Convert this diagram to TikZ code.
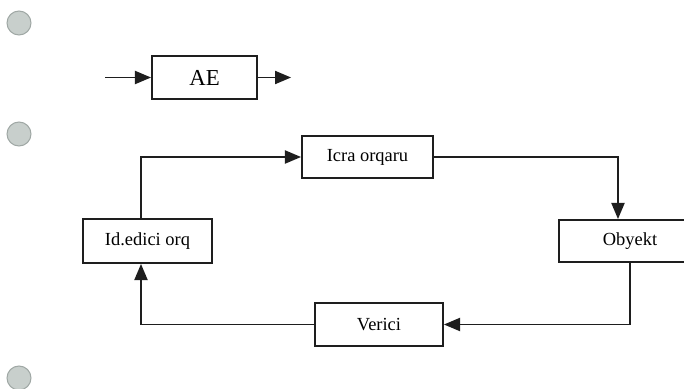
\documentclass[tikz,border=0pt]{standalone}
\usepackage{fontspec}
\setmainfont{Liberation Serif}
\usetikzlibrary{arrows,calc}
\definecolor{BulletClr}{RGB}{200,207,204}
\definecolor{BulletRim}{RGB}{160,168,165}
\definecolor{LineClr}{RGB}{30,30,30}

\tikzset{
  blok/.style={draw=LineClr,line width=1.2pt,fill=white,inner sep=0pt,font=\fontsize{10.5}{12}\selectfont},
  axin/.style={-triangle 45,line width=1.1pt,draw=LineClr},
  nokta/.style={circle,fill=BulletClr,draw=BulletRim,line width=0.6pt,minimum size=0.48cm,inner sep=0pt}
}

\begin{document}
\begin{tikzpicture}[x=0.02cm,y=-0.02cm]
\useasboundingbox (0,0) rectangle (684,389);
\clip (0,0) rectangle (684,389);

% bullets
\node[nokta] (b1) at (19,23) {};
\node[nokta] (b2) at (19,134) {};
\node[nokta] (b3) at (19,378) {};

% single block
\node[blok,minimum width=2.1cm,minimum height=0.86cm,font=\fontsize{13}{15}\selectfont] (ae) at (204.5,77.5) {AE};
\coordinate (aeIn) at (105,77.5);
\coordinate (aeOut) at (291,77.5);
\draw[axin] (aeIn) -- (ae.west);
\draw[axin] (ae.east) -- (aeOut);

% closed loop
\node[blok,minimum width=2.62cm,minimum height=0.84cm] (icra) at (367.5,157) {Icra orqaru};
\node[blok,minimum width=2.58cm,minimum height=0.88cm] (ided) at (147.5,241) {Id.edici orq};
\node[blok,minimum width=2.84cm,minimum height=0.84cm] (obj) at (630,241) {Obyekt};
\node[blok,minimum width=2.56cm,minimum height=0.86cm] (ver) at (379,324.5) {Verici};

\draw[axin] (ided.north -| 141,0) |- (icra.west);
\draw[axin] (icra.east) -| (obj.north -| 618,0);
\draw[axin] (obj.south) |- (ver.east);
\draw[axin] (ver.west) -| (ided.south -| 141,0);

\end{tikzpicture}
\end{document}
